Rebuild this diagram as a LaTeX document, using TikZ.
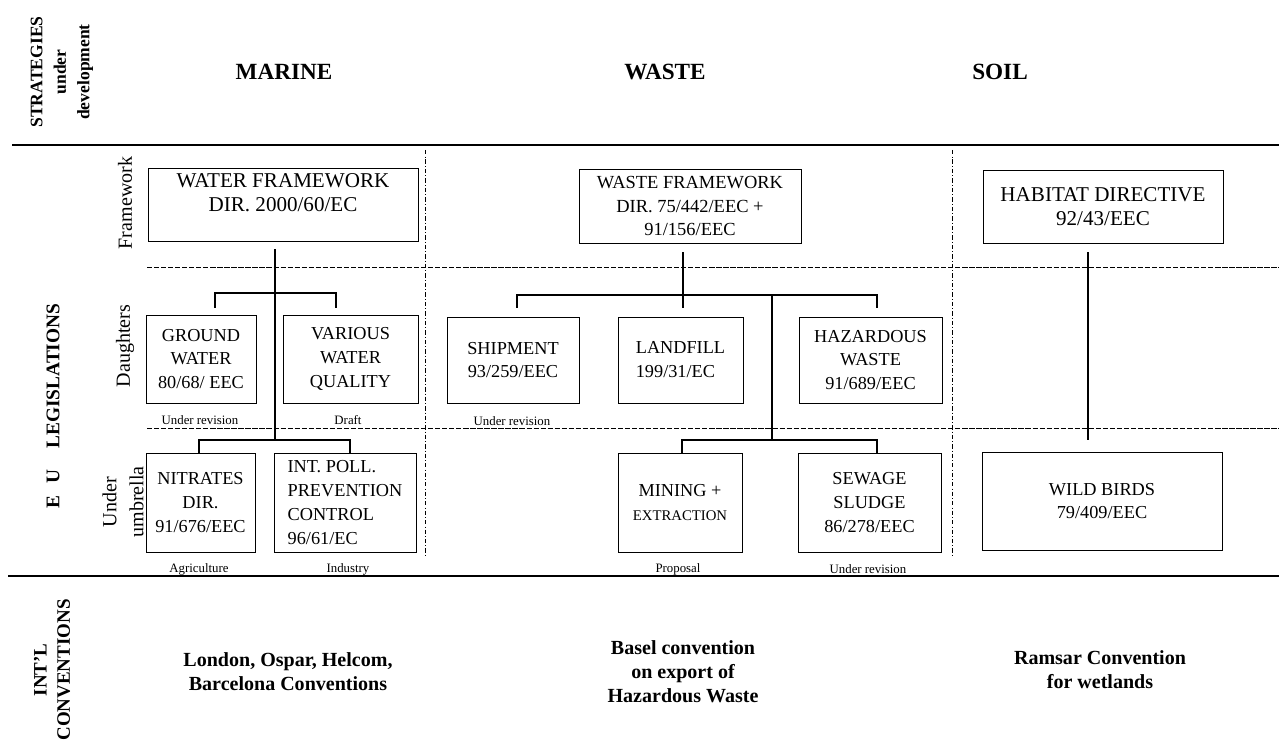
\documentclass[tikz,border=0pt]{standalone}
\usepackage{fontspec}
\setmainfont{Liberation Serif}
\usepackage{tikz}
\usetikzlibrary{calc}
\newcommand{\pxu}{0.02cm}
\newcommand{\boxfont}{\fontsize{10.4}{13.6}\selectfont}
\newcommand{\bigboxfont}{\fontsize{12}{13.4}\selectfont}
\newcommand{\notefont}{\fontsize{7.3}{8.5}\selectfont}
\newcommand{\headfont}{\fontsize{13.2}{15}\selectfont\bfseries}
\newcommand{\convfont}{\fontsize{11.4}{13.6}\selectfont\bfseries}
\newcommand{\sidefont}{\fontsize{10}{13.4}\selectfont\bfseries}
\newcommand{\rowfont}{\fontsize{11.4}{15.3}\selectfont}
\tikzset{
	lawbox/.style={draw, line width=0.5pt, inner sep=1pt, align=center, font=\boxfont},
	note/.style={inner sep=0pt, font=\notefont},
	colhead/.style={inner sep=0pt, font=\headfont},
	conv/.style={inner sep=0pt, align=center, font=\convfont},
	sidehead/.style={inner sep=0pt, rotate=90, align=center, font=\sidefont},
	rowhead/.style={inner sep=0pt, rotate=90, align=center, font=\rowfont},
	band/.style={line width=0.6pt},
	rowsep/.style={line width=0.5pt, dash pattern=on 3pt off 1pt},
	colsep/.style={line width=0.5pt, dash pattern=on 2.5pt off 1.2pt on 0.5pt off 1.2pt},
	link/.style={line width=0.6pt}
}

\begin{document}
\begin{tikzpicture}[x=\pxu, y=-\pxu]
	\useasboundingbox[fill=white] (0,0) rectangle (1279,740);

	% frame lines
	\draw[band] (12,145) coordinate (topl) -- (1279,145) coordinate (topr);
	\draw[band] (8,576) coordinate (botl) -- (1279,576) coordinate (botr);
	\draw[rowsep] (147,267) coordinate (r1l) -- (1279,267) coordinate (r1r);
	\draw[rowsep] (147,428) coordinate (r2l) -- (1279,428) coordinate (r2r);
	\draw[colsep] (425,150) coordinate (c1t) -- (425,557) coordinate (c1b);
	\draw[colsep] (952,150) coordinate (c2t) -- (952,557) coordinate (c2b);

	% side headings
	\node[sidehead] (strat) at (62,72) {STRATEGIES\\under\\development};
	\node[sidehead, font=\fontsize{11}{13}\selectfont\bfseries] (eulaw) at (53,406) {E\hspace{0.6em}U\hspace{1.1em}LEGISLATIONS};
	\node[sidehead, font=\fontsize{10.8}{13.2}\selectfont\bfseries] (intl) at (52,670) {INT'L\\CONVENTIONS};
	\node[rowhead] (fwrow) at (125,203) {Framework};
	\node[rowhead] (darow) at (125,346) {Daughters};
	\node[rowhead] (umrow) at (123,502) {Under\\umbrella};

	\node[colhead] (marine) at (284,72) {MARINE};
	\node[colhead] (waste) at (665,72) {WASTE};
	\node[colhead] (soil) at (1000,72) {SOIL};

	% marine
	\node[lawbox, font=\bigboxfont, minimum width=270*\pxu, minimum height=73*\pxu] (water) at (283,204.5) {WATER FRAMEWORK\\DIR. 2000/60/EC\\\mbox{}};
	\node[lawbox, minimum width=110*\pxu, minimum height=88*\pxu] (ground) at (201,359) {GROUND\\WATER\\80/68/ EEC};
	\node[lawbox, minimum width=135*\pxu, minimum height=88*\pxu] (various) at (350.5,359) {VARIOUS\\WATER\\QUALITY};
	\node[lawbox, minimum width=109*\pxu, minimum height=99*\pxu] (nitrates) at (200.5,502.5) {NITRATES\\DIR.\\91/676/EEC};
	\node[lawbox, align=left, minimum width=142*\pxu, minimum height=99*\pxu] (ippc) at (345,502.5) {INT. POLL.\\PREVENTION\\CONTROL\\96/61/EC};
	\node[note] (gwnote) at (200,420) {Under revision};
	\node[note] (wqnote) at (348,420) {Draft};
	\node[note] (agnote) at (199,569) {Agriculture};
	\node[note] (innote) at (348,569) {Industry};

	\coordinate (mtrunk) at (275,249);
	\coordinate (mdau) at (275,293);
	\coordinate (mumb) at (275,440);
	\draw[link] (mtrunk) -- (mumb);
	\draw[link] ([xshift=14*\pxu, yshift=7*\pxu]ground.north) |- (mdau) -| ([xshift=-14.5*\pxu, yshift=7*\pxu]various.north);
	\draw[link] ([xshift=-1.5*\pxu]nitrates.north) |- (mumb) -| ([xshift=5*\pxu]ippc.north);

	% waste
	\node[lawbox, font=\fontsize{10.5}{13.6}\selectfont, minimum width=222*\pxu, minimum height=74*\pxu] (wastefw) at (690,206) {WASTE FRAMEWORK\\DIR. 75/442/EEC +\\91/156/EEC};
	\node[lawbox, minimum width=132*\pxu, minimum height=86*\pxu] (shipment) at (513,360) {SHIPMENT\\93/259/EEC};
	\node[lawbox, align=left, minimum width=125*\pxu, minimum height=86*\pxu] (landfill) at (680.5,360) {LANDFILL\\199/31/EC};
	\node[lawbox, minimum width=143*\pxu, minimum height=86*\pxu] (hazardous) at (870.5,360) {HAZARDOUS\\WASTE\\91/689/EEC};
	\node[lawbox, minimum width=124*\pxu, minimum height=99*\pxu] (mining) at (680,502.5) {MINING +\\{\fontsize{8.4}{13.6}\selectfont EXTRACTION}};
	\node[lawbox, minimum width=143*\pxu, minimum height=99*\pxu] (sewage) at (869.5,502.5) {SEWAGE\\SLUDGE\\86/278/EEC};
	\node[note] (shnote) at (512,421) {Under revision};
	\node[note] (mnnote) at (678,569) {Proposal};
	\node[note] (swnote) at (868,569) {Under revision};

	\coordinate (wtrunk) at (683,252);
	\coordinate (wdau) at (683,295);
	\coordinate (wsplit) at (772,295);
	\coordinate (wumb) at (772,440);
	\draw[link] (wtrunk) -- ([yshift=9*\pxu]landfill.north -| wtrunk);
	\draw[link] ([xshift=4*\pxu, yshift=9*\pxu]shipment.north) |- (wdau) -- (wsplit) -| ([xshift=6.5*\pxu, yshift=9*\pxu]hazardous.north);
	\draw[link] (wsplit) -- (wumb);
	\draw[link] ([xshift=2*\pxu]mining.north) |- (wumb) -| ([xshift=7.5*\pxu]sewage.north);

	% soil
	\node[lawbox, font=\bigboxfont, minimum width=240*\pxu, minimum height=73*\pxu] (habitat) at (1103,206.5) {HABITAT DIRECTIVE\\92/43/EEC};
	\node[lawbox, minimum width=240*\pxu, minimum height=98*\pxu] (birds) at (1102,501) {WILD BIRDS\\79/409/EEC};
	\coordinate (strunk) at (1088,252);
	\coordinate (send) at (1088,440);
	\draw[link] (strunk) -- (send);

	% conventions
	\node[conv] (london) at (288,672) {London, Ospar, Helcom,\\Barcelona Conventions};
	\node[conv] (basel) at (683,672) {Basel convention\\on export of\\Hazardous Waste};
	\node[conv] (ramsar) at (1100,670) {Ramsar Convention\\for wetlands};
\end{tikzpicture}
\end{document}
